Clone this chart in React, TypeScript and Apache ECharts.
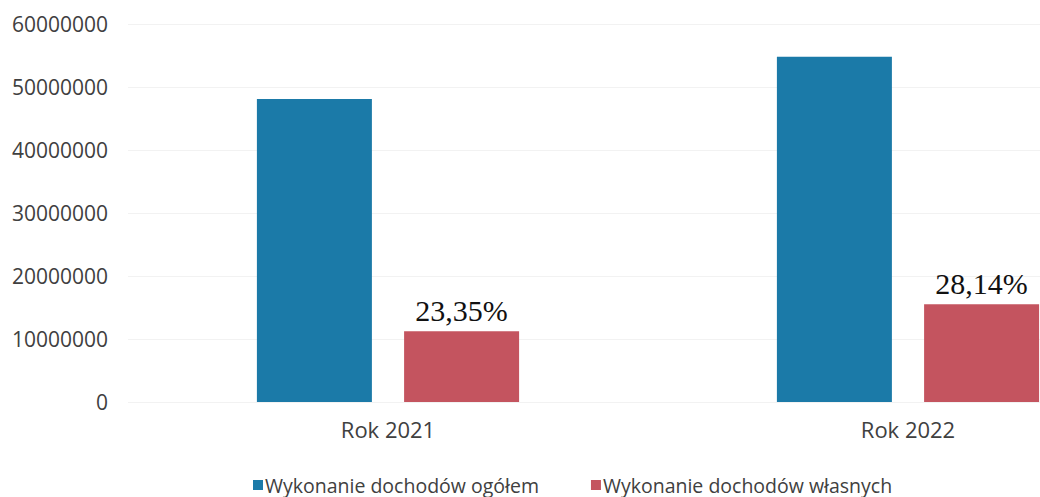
import React, { useEffect, useRef } from "react";
import * as echarts from "echarts";

const categories = ["Rok 2021", "Rok 2022"];
const seriesNames = ["Wykonanie dochodów ogółem", "Wykonanie dochodów własnych"];
const totalIncome = [48100000, 54800000];
const ownIncome = [11250000, 15500000];
const ownLabels = ["23,35%", "28,14%"];

export default function App() {
  const ref = useRef<HTMLDivElement>(null);
  useEffect(() => {
    if (!ref.current) return;
    const chart = echarts.init(ref.current, null, { renderer: "svg" });
    chart.setOption({
      animation: false,
      backgroundColor: "#ffffff",
      grid: { left: 128, top: 24, width: 1040, height: 378, outerBoundsMode: "none", containLabel: false },
      legend: {
        left: 253,
        top: 474,
        padding: 0,
        itemWidth: 10,
        itemHeight: 10,
        itemGap: 52,
        icon: "rect",
        textStyle: {
          fontFamily: "Open Sans",
          fontSize: 19.5,
          lineHeight: 22,
          color: "#404040",
          padding: [0, 0, 0, -3],
        },
        data: seriesNames,
      },
      xAxis: {
        type: "category",
        data: categories,
        axisLine: { show: false },
        axisTick: { show: false },
        axisLabel: { fontFamily: "Open Sans", fontSize: 22, color: "#404040", margin: 16 },
      },
      yAxis: {
        type: "value",
        min: 0,
        max: 60000000,
        interval: 10000000,
        axisLine: { show: false },
        axisTick: { show: false },
        splitLine: { lineStyle: { color: "#f2f2f2", width: 1 } },
        axisLabel: {
          fontFamily: "Open Sans",
          fontSize: 21,
          color: "#404040",
          margin: 20,
          formatter: (v: number) => String(v),
        },
      },
      series: [
        {
          name: seriesNames[0],
          type: "bar",
          data: totalIncome,
          barWidth: 115,
          barGap: "28%",
          itemStyle: { color: "#1b7aa8" },
        },
        {
          name: seriesNames[1],
          type: "bar",
          data: ownIncome.map((v, i) => ({
            value: v,
            label: { formatter: ownLabels[i] },
          })),
          barWidth: 115,
          itemStyle: { color: "#c4545f" },
          label: {
            show: true,
            position: "top",
            distance: 6,
            fontFamily: "Liberation Serif",
            fontSize: 30,
            color: "#111111",
          },
        },
      ],
    });
    return () => chart.dispose();
  }, []);
  return (
    <div
      ref={ref}
      style={{ position: "fixed", left: 0, top: 0, width: 1040, height: 497 }}
    />
  );
}
